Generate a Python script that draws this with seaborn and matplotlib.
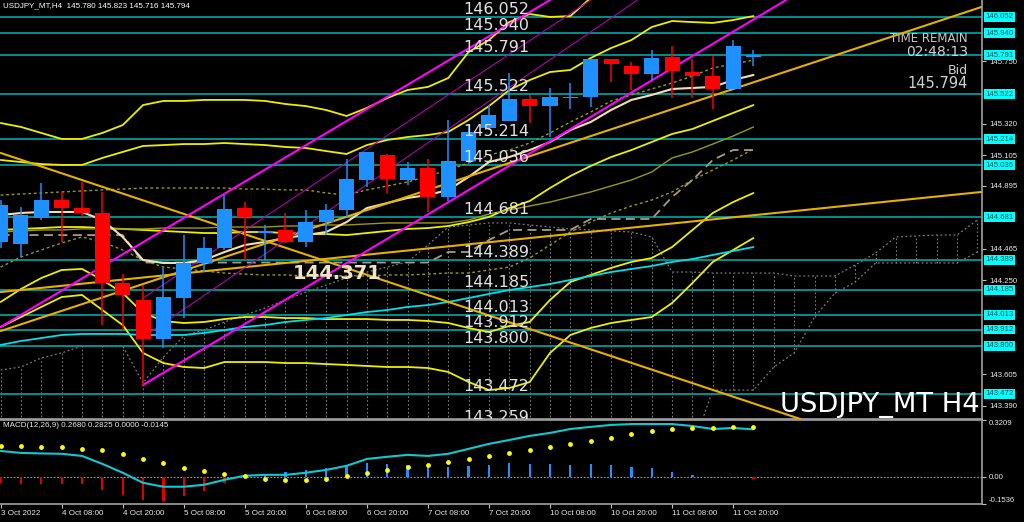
import numpy as np
import matplotlib
matplotlib.use("Agg")
import matplotlib.pyplot as plt
import seaborn as sns

# ---- price bars, USDJPY H4 (bar 0 = 3 Oct 20:00) ----
bars = np.arange(38)
open_ = [144.512, 144.498, 144.676, 144.799, 144.744, 144.710, 144.231, 144.115, 143.848, 144.128,
         144.368, 144.471, 144.744, 144.573, 144.594, 144.512, 144.649, 144.731, 144.936, 145.107,
         144.936, 145.018, 144.820, 145.066, 145.292, 145.340, 145.490, 145.443, 145.497, 145.504,
         145.764, 145.716, 145.662, 145.778, 145.675, 145.648, 145.559, 145.780]
high = [144.799, 144.751, 144.915, 144.854, 144.922, 144.854, 144.293, 144.217, 144.334, 144.560,
        144.546, 144.833, 144.785, 144.628, 144.710, 144.731, 144.772, 145.080, 145.128, 145.114,
        145.059, 145.080, 145.347, 145.313, 145.449, 145.668, 145.518, 145.566, 145.600, 145.764,
        145.764, 145.744, 145.826, 145.853, 145.764, 145.785, 145.895, 145.823]
low = [144.470, 144.409, 144.662, 144.512, 144.683, 143.943, 143.909, 143.533, 143.786, 143.991,
       144.306, 144.457, 144.388, 144.388, 144.505, 144.477, 144.560, 144.683, 144.888, 144.847,
       144.902, 144.717, 144.792, 145.052, 145.278, 145.340, 145.326, 145.230, 145.422, 145.436,
       145.607, 145.552, 145.621, 145.497, 145.497, 145.422, 145.559, 145.716]
close = [144.765, 144.696, 144.799, 144.744, 144.710, 144.231, 144.149, 143.848, 144.135, 144.368,
         144.471, 144.737, 144.683, 144.587, 144.512, 144.649, 144.731, 144.943, 145.128, 144.943,
         145.018, 144.820, 145.066, 145.265, 145.381, 145.490, 145.443, 145.504, 145.501, 145.764,
         145.730, 145.662, 145.771, 145.682, 145.648, 145.559, 145.853, 145.794]

# ---- bollinger bands (20) ----
bb_up3 = [145.326, 145.299, 145.258, 145.217, 145.217, 145.258, 145.312, 145.449, 145.477, 145.477,
          145.484, 145.484, 145.484, 145.477, 145.456, 145.442, 145.415, 145.374, 145.429, 145.497,
          145.552, 145.573, 145.634, 145.812, 145.894, 146.017, 146.072, 146.052, 146.058, 146.182,
          146.305, 146.360, 146.394, 146.394, 146.373, 146.373, 146.367, 146.360]
bb_up2 = [145.073, 145.059, 145.045, 145.039, 145.039, 145.087, 145.128, 145.169, 145.175, 145.182,
          145.182, 145.189, 145.182, 145.175, 145.162, 145.155, 145.134, 145.114, 145.175, 145.210,
          145.230, 145.244, 145.265, 145.347, 145.442, 145.552, 145.620, 145.675, 145.689, 145.771,
          145.839, 145.894, 145.983, 146.024, 146.017, 146.011, 146.031, 146.058]
bb_up1 = [144.833, 144.840, 144.847, 144.854, 144.861, 144.868, 144.874, 144.881, 144.881, 144.881,
          144.881, 144.881, 144.874, 144.874, 144.868, 144.868, 144.847, 144.833, 144.868, 144.895,
          144.922, 144.963, 145.004, 145.052, 145.107, 145.141, 145.189, 145.258, 145.333, 145.401,
          145.477, 145.518, 145.559, 145.600, 145.648, 145.703, 145.730, 145.757]
bb_mid = [144.594, 144.601, 144.607, 144.614, 144.614, 144.607, 144.601, 144.594, 144.587, 144.580,
          144.573, 144.573, 144.580, 144.580, 144.573, 144.566, 144.566, 144.559, 144.573, 144.587,
          144.601, 144.607, 144.621, 144.648, 144.683, 144.744, 144.792, 144.881, 144.963, 145.032,
          145.093, 145.141, 145.196, 145.251, 145.285, 145.340, 145.395, 145.449]
bb_dn1 = [144.340, 144.409, 144.457, 144.505, 144.546, 144.512, 144.457, 144.388, 144.340, 144.327,
          144.313, 144.299, 144.292, 144.286, 144.286, 144.279, 144.279, 144.279, 144.279, 144.286,
          144.286, 144.292, 144.299, 144.299, 144.320, 144.340, 144.402, 144.491, 144.580, 144.648,
          144.710, 144.758, 144.799, 144.854, 144.936, 145.004, 145.073, 145.148]
bb_dn2 = [144.101, 144.190, 144.265, 144.320, 144.327, 144.252, 144.162, 144.026, 143.971, 143.957,
          143.964, 143.984, 143.998, 143.998, 143.991, 143.991, 143.984, 143.984, 143.984, 143.978,
          143.978, 143.971, 143.957, 143.923, 143.895, 143.937, 143.964, 144.115, 144.238, 144.286,
          144.334, 144.375, 144.402, 144.477, 144.594, 144.710, 144.785, 144.847]
bb_dn3 = [143.930, 143.998, 144.067, 144.135, 144.149, 144.046, 143.943, 143.752, 143.683, 143.656,
          143.649, 143.690, 143.690, 143.690, 143.683, 143.683, 143.676, 143.670, 143.663, 143.656,
          143.656, 143.649, 143.622, 143.553, 143.498, 143.512, 143.553, 143.752, 143.875, 143.923,
          143.957, 143.978, 143.998, 144.094, 144.231, 144.375, 144.457, 144.539]

# ---- moving averages ----
ma_fast = [144.696, 144.710, 144.717, 144.717, 144.717, 144.662, 144.546, 144.388, 144.368, 144.368,
           144.388, 144.443, 144.491, 144.512, 144.539, 144.559, 144.580, 144.648, 144.744, 144.778,
           144.813, 144.833, 144.868, 144.957, 145.059, 145.093, 145.141, 145.196, 145.278, 145.333,
           145.415, 145.484, 145.518, 145.559, 145.566, 145.573, 145.620, 145.655]
ma_slow = [143.807, 143.834, 143.854, 143.875, 143.882, 143.882, 143.882, 143.875, 143.875, 143.875,
           143.889, 143.909, 143.930, 143.943, 143.964, 143.978, 143.991, 144.012, 144.032, 144.046,
           144.067, 144.080, 144.101, 144.128, 144.156, 144.183, 144.203, 144.224, 144.252, 144.279,
           144.306, 144.327, 144.347, 144.375, 144.395, 144.423, 144.450, 144.477]
ma_mid = [144.580, 144.587, 144.594, 144.594, 144.601, 144.601, 144.601, 144.601, 144.607, 144.607,
          144.607, 144.614, 144.614, 144.614, 144.621, 144.621, 144.628, 144.628, 144.635, 144.642,
          144.642, 144.642, 144.642, 144.662, 144.703, 144.731, 144.758, 144.785, 144.820, 144.854,
          144.895, 144.936, 144.991, 145.087, 145.128, 145.182, 145.237, 145.299]

# ---- ichimoku ----
kijun = [144.559, 144.559, 144.559, 144.559, 144.559, 144.559, 144.559, 144.371, 144.371, 144.371,
         144.371, 144.371, 144.371, 144.371, 144.371, 144.371, 144.371, 144.371, 144.371, 144.371,
         144.371, 144.371, 144.443, 144.443, 144.525, 144.594, 144.594, 144.594, 144.594, 144.669,
         144.669, 144.669, 144.669, 144.820, 144.936, 145.073, 145.141, 145.141]
cloud_bars = np.arange(49)
cloud_top = [143.635, 143.656, 143.718, 143.752, 143.800, 143.800, 143.800, 143.546, 143.724, 143.868,
             143.909, 143.964, 144.012, 144.060, 144.115, 144.169, 144.217, 144.265, 144.306, 144.340,
             144.375, 144.491, 144.614, 144.628, 144.642, 144.642, 144.628, 144.614, 144.601, 144.594,
             144.587, 144.580, 144.546, 144.306, 144.306, 144.299, 144.299, 144.299, 144.299, 144.279,
             144.279, 144.279, 144.354, 144.436, 144.546, 144.553, 144.559, 144.559, 144.662]
cloud_bottom = [143.100] * 35 + [143.498, 143.498, 143.498, 143.656, 143.752, 143.998, 144.162,
                                 144.238, 144.368, 144.368, 144.368, 144.368, 144.368, 144.443]

# ---- drawn lines ----
levels = [146.052, 145.940, 145.791, 145.522, 145.214, 145.036, 144.681, 144.389,
          144.185, 144.013, 143.912, 143.800, 143.472, 143.259]
chan_upper = ([0, 27.0], [143.930, 146.168])
chan_lower = ([7, 38.6], [143.533, 146.168])
chan_thin1 = ([7, 31.3], [143.861, 146.168])
chan_thin2 = ([7, 29.0], [144.128, 146.168])
trend_down = ([0, 39.3], [145.121, 143.300])
trend_flat = ([0, 48.2], [144.169, 144.854])
trend_up = ([0, 48.2], [143.902, 146.120])

# ---- MACD(12,26,9) ----
macd = [0.146, 0.135, 0.132, 0.130, 0.118, 0.073, 0.023, -0.034, -0.056, -0.056,
        -0.045, -0.017, 0.006, 0.011, 0.011, 0.023, 0.039, 0.062, 0.101, 0.113,
        0.124, 0.118, 0.130, 0.158, 0.186, 0.208, 0.231, 0.248, 0.270, 0.282,
        0.293, 0.298, 0.298, 0.298, 0.287, 0.270, 0.276, 0.268]
signal = [0.175, 0.175, 0.171, 0.167, 0.159, 0.150, 0.128, 0.103, 0.077, 0.052,
          0.034, 0.017, 0.002, -0.010, -0.017, -0.017, -0.010, 0.002, 0.019, 0.038,
          0.056, 0.068, 0.081, 0.100, 0.117, 0.135, 0.154, 0.171, 0.186, 0.204,
          0.221, 0.240, 0.257, 0.269, 0.276, 0.278, 0.282, 0.2825]
osma = [-0.034, -0.038, -0.038, -0.039, -0.043, -0.077, -0.103, -0.133, -0.137, -0.109,
        -0.081, -0.034, -0.005, 0.017, 0.028, 0.041, 0.047, 0.060, 0.079, 0.073,
        0.069, 0.069, 0.054, 0.060, 0.069, 0.079, 0.075, 0.075, 0.069, 0.075,
        0.069, 0.054, 0.047, 0.028, 0.013, -0.009, -0.009, -0.0145]

date_ticks = [0, 3, 6, 9, 12, 15, 18, 21, 24, 27, 30, 33, 36]
date_labels = ["3 Oct 2022", "4 Oct 08:00", "4 Oct 20:00", "5 Oct 08:00", "5 Oct 20:00",
               "6 Oct 08:00", "6 Oct 20:00", "7 Oct 08:00", "7 Oct 20:00", "10 Oct 08:00",
               "10 Oct 20:00", "11 Oct 08:00", "11 Oct 20:00"]
price_ticks = [145.750, 145.320, 145.105, 144.895, 144.465,
               144.250, 143.605, 143.390]

BULL, BEAR = "#1e90ff", "#ff0000"
YEL, OLIVE, GOLD = "#eeee00", "#9a9a10", "#e6b000"
UI = "Liberation Sans"

sns.set_theme(style="dark", rc={"axes.facecolor": "black", "figure.facecolor": "black"})
plt.rcParams["font.family"] = ["DejaVu Sans"]

fig = plt.figure(figsize=(10.24, 5.22), dpi=100)
ax = fig.add_axes([0, 1 - 419 / 522, 982 / 1024, 419 / 522])
mx = fig.add_axes([0, 1 - 504 / 522, 982 / 1024, 84 / 522])


def line(a, x, y, **kw):
    sns.lineplot(x=x, y=y, ax=a, estimator=None, sort=False, legend=False, **kw)


# cloud
dot = (0, (1.5, 2))
ax.vlines(cloud_bars, cloud_bottom, cloud_top, colors="#7a7a7a", linestyles=dot, lw=0.8, zorder=1)
line(ax, cloud_bars, cloud_top, color="#7a7a7a", lw=0.9, linestyle=dot, zorder=1)
line(ax, cloud_bars, cloud_bottom, color="#7a7a7a", lw=0.9, linestyle=dot, zorder=1)

# horizontal levels
for lv in levels:
    ax.axhline(lv, color="#009a9a", lw=1.3, zorder=2)
    ax.text(22.73, lv, f"{lv:.3f}", color="#e2e2e2", fontsize=11.5, ha="left", va="bottom",
            zorder=8, clip_on=True)

# bollinger bands
for band in (bb_up3, bb_up2, bb_mid, bb_dn2, bb_dn3):
    line(ax, bars, band, color=YEL, lw=1.3, zorder=3)
for band in (bb_up1, bb_dn1):
    line(ax, bars, band, color=OLIVE, lw=1.0, linestyle=(0, (2, 2)), zorder=3)

line(ax, bars, ma_mid, color=OLIVE, lw=1.0, zorder=3)
line(ax, bars, ma_slow, color="#00e0ea", lw=1.3, zorder=3)
line(ax, bars, kijun, color="#a89a88", lw=1.3, linestyle=(0, (5, 3)), zorder=3)
line(ax, bars, ma_fast, color="#f5deb3", lw=1.5, zorder=4)

# trend lines and channel
for xs, ys in (trend_down, trend_flat, trend_up):
    line(ax, xs, ys, color=GOLD, lw=1.5, zorder=4)
for xs, ys in (chan_upper, chan_lower):
    line(ax, xs, ys, color="#ff00ff", lw=1.5, zorder=4)
for xs, ys in (chan_thin1, chan_thin2):
    line(ax, xs, ys, color="#b000b0", lw=0.8, zorder=4)

# candles
o, h, l, c = map(np.array, (open_, high, low, close))
cols = np.where(c >= o, BULL, BEAR)
ax.vlines(bars, l, h, colors=cols, lw=1.1, zorder=5)
ax.bar(bars, np.maximum(np.abs(c - o), 0.006), width=0.74, bottom=np.minimum(o, c),
       color=cols, linewidth=0, edgecolor="none", zorder=6)

ax.text(14.37, 144.371 - 0.012, "144.371", color="#f3e4c4", fontsize=14, fontweight="bold",
        ha="left", va="top", zorder=8)

ax.set_xlim(-0.03, 48.23)
ax.set_ylim(143.300, 146.168)
ax.set_xticks([])
ax.yaxis.tick_right()
ax.set_yticks(price_ticks)
ax.set_yticklabels([f"{t:.3f}" for t in price_ticks], fontsize=5.6, color="#e8e8e8", family=UI)
ax.tick_params(axis="y", length=3, width=0.8, color="#c0c0c0", pad=2, direction="out")
ax.set_xlabel("")
ax.set_ylabel("")
for side in ("left", "top"):
    ax.spines[side].set_visible(False)
for side in ("right", "bottom"):
    ax.spines[side].set_color("#a0a0a0")
    ax.spines[side].set_linewidth(1.2)

for lv in levels[:-1]:
    ax.annotate(f"{lv:.3f}", xy=(1, lv), xycoords=ax.get_yaxis_transform(), xytext=(2.5, 0),
                textcoords="offset points", ha="left", va="center", fontsize=5.6, color="#005a5a",
                family=UI, annotation_clip=False, zorder=9,
                bbox=dict(boxstyle="square,pad=0.18", fc="#00ffff", ec="none"))

ax.text(0.003, 0.986, "USDJPY_MT,H4  145.780 145.823 145.716 145.794", transform=ax.transAxes,
        fontsize=5.8, color="white", family=UI, ha="left", va="center")
ax.text(0.9857, 0.908, "TIME REMAIN", transform=ax.transAxes, fontsize=8.5, color="#c8c8c8",
        ha="right", va="center")
ax.text(0.9857, 0.877, "02:48:13", transform=ax.transAxes, fontsize=10, color="#d0d0d0",
        ha="right", va="center")
ax.text(0.9857, 0.832, "Bid", transform=ax.transAxes, fontsize=9, color="#d0d0d0",
        ha="right", va="center")
ax.text(0.9857, 0.800, "145.794", transform=ax.transAxes, fontsize=10.5, color="#d0d0d0",
        ha="right", va="center")
ax.text(0.998, 0.017, "USDJPY_MT H4", transform=ax.transAxes, fontsize=19.7, color="white",
        ha="right", va="baseline", zorder=9)

# ---- MACD window ----
mx.axhline(0, color="#9a9a9a", lw=0.8, linestyle=(0, (1.5, 1.5)), zorder=1)
osma_arr = np.array(osma)
mx.bar(bars, osma_arr, width=0.11, color=np.where(osma_arr >= 0, BULL, "#e00000"),
       linewidth=0, edgecolor="none", zorder=2)
line(mx, bars, macd, color="#10c8d2", lw=1.5, zorder=3)
sns.scatterplot(x=bars, y=signal, ax=mx, color="#ffff00", s=12, linewidth=0, legend=False, zorder=4)

mx.set_xlim(-0.03, 48.23)
mx.set_ylim(-0.1536, 0.3209)
mx.yaxis.tick_right()
mx.set_yticks([0.3209, 0.0, -0.1536])
mx.set_yticklabels(["0.3209", "0.00", "-0.1536"], fontsize=5.6, color="#e8e8e8", family=UI)
labs = mx.get_yticklabels()
labs[0].set_va("top")
labs[2].set_va("bottom")
mx.tick_params(axis="y", length=3, width=0.8, color="#c0c0c0", pad=2)
mx.set_xticks(date_ticks)
mx.set_xticklabels(date_labels, fontsize=5.8, color="#e8e8e8", family=UI, ha="left")
mx.tick_params(axis="x", length=3, width=0.8, color="#c0c0c0", pad=1.5, bottom=True)
mx.set_xlabel("")
mx.set_ylabel("")
mx.spines["left"].set_visible(False)
for side in ("right", "bottom", "top"):
    mx.spines[side].set_color("#a0a0a0")
    mx.spines[side].set_linewidth(1.2)
mx.text(0.003, 0.93, "MACD(12,26,9) 0.2680 0.2825 0.0000 -0.0145", transform=mx.transAxes,
        fontsize=5.8, color="#e8e8e8", family=UI, ha="left", va="center")

fig.savefig("out.png", dpi=100, facecolor="black")
